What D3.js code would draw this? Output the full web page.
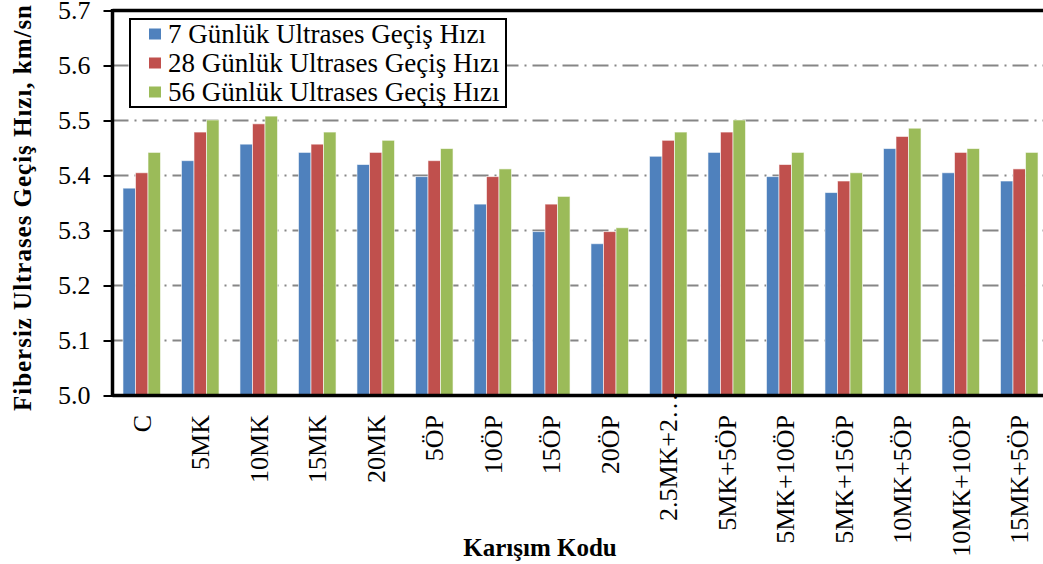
<!DOCTYPE html>
<html>
<head>
<meta charset="utf-8">
<script src="https://cdn.jsdelivr.net/npm/d3@7"></script>
<style>
  body { margin: 0; background: #fff; }
  text { font-family: "Liberation Serif", "Times New Roman", serif; fill: #000; }
</style>
</head>
<body>
<svg id="chart" width="1043" height="564"></svg>
<script>
/*
# grouped bar chart: ultrasonic pulse velocity by mix code
*/
var categories = ["C", "5MK", "10MK", "15MK", "20MK", "5ÖP", "10ÖP", "15ÖP", "20ÖP",
  "2.5MK+2…", "5MK+5ÖP", "5MK+10ÖP", "5MK+15ÖP", "10MK+5ÖP", "10MK+10ÖP", "15MK+5ÖP"];
var seriesNames = ["7 Günlük Ultrases Geçiş Hızı", "28 Günlük Ultrases Geçiş Hızı", "56 Günlük Ultrases Geçiş Hızı"];
var day7 = [5.377, 5.427, 5.457, 5.442, 5.420, 5.398, 5.348, 5.298, 5.276, 5.435, 5.442, 5.398, 5.369, 5.449, 5.405, 5.390];
var day28 = [5.405, 5.479, 5.494, 5.457, 5.442, 5.427, 5.398, 5.348, 5.298, 5.464, 5.479, 5.420, 5.390, 5.471, 5.442, 5.412];
var day56 = [5.442, 5.501, 5.508, 5.479, 5.464, 5.449, 5.412, 5.362, 5.305, 5.479, 5.501, 5.442, 5.405, 5.486, 5.449, 5.442];
var yTicks = [5.0, 5.1, 5.2, 5.3, 5.4, 5.5, 5.6, 5.7];
var colors = ["#4f81bd", "#c0504d", "#9bbb59"];

var svg = d3.select("#chart");
var plotLeft = 112.5, plotRight = 1048.5, plotTop = 10.5, plotBottom = 395.5;

var x = d3.scaleBand().domain(categories).range([plotLeft, plotRight]).paddingInner(0.358).paddingOuter(0.179);
var x1 = d3.scaleBand().domain([0, 1, 2]).range([0, x.bandwidth()]);
var y = d3.scaleLinear().domain([5.0, 5.7]).range([plotBottom, plotTop]);

var rows = categories.map(function(c, i) {
  return { cat: c, vals: [day7[i], day28[i], day56[i]] };
});

// gridlines, dash-dot like the original
svg.append("g").selectAll("line").data(yTicks.slice(1, -1)).enter().append("line")
  .attr("x1", plotLeft).attr("x2", 1043)
  .attr("y1", function(d) { return y(d); }).attr("y2", function(d) { return y(d); })
  .attr("stroke", "#868686").attr("stroke-width", 2)
  .attr("stroke-dasharray", "16,6,2,6");

// bars
var groups = svg.append("g").selectAll("g").data(rows).enter().append("g")
  .attr("transform", function(d) { return "translate(" + x(d.cat) + ",0)"; });
groups.selectAll("rect").data(function(d) { return d.vals; }).enter().append("rect")
  .attr("x", function(d, i) { return x1(i); })
  .attr("width", x1.bandwidth())
  .attr("y", function(d) { return y(d); })
  .attr("height", function(d) { return plotBottom - y(d); })
  .attr("fill", function(d, i) { return colors[i]; })
  .attr("stroke", "#fff").attr("stroke-opacity", 0.6).attr("stroke-width", 1);

// y axis
var yAxis = svg.append("g").attr("transform", "translate(" + plotLeft + ",0)")
  .call(d3.axisLeft(y).tickValues(yTicks).tickFormat(d3.format(".1f")).tickSize(9).tickPadding(13));
yAxis.select(".domain").remove();
yAxis.selectAll(".tick line").attr("stroke", "#000").attr("stroke-width", 2);
yAxis.selectAll(".tick text").style("font-size", "26px").style("font-family", "Liberation Serif");

// frame lines (left axis, bottom axis, top border)
svg.append("line").attr("x1", plotLeft).attr("x2", plotLeft).attr("y1", plotTop - 1.5).attr("y2", plotBottom + 1.5)
  .attr("stroke", "#000").attr("stroke-width", 3.5);
svg.append("line").attr("x1", plotLeft).attr("x2", 1043).attr("y1", plotBottom).attr("y2", plotBottom)
  .attr("stroke", "#000").attr("stroke-width", 3.5);
svg.append("line").attr("x1", plotLeft).attr("x2", 1043).attr("y1", plotTop).attr("y2", plotTop)
  .attr("stroke", "#000").attr("stroke-width", 3.5);

// x labels, rotated; the truncated one runs up over the axis like in excel
svg.append("g").selectAll("text").data(categories).enter().append("text")
  .attr("transform", function(d) { return "translate(" + (x(d) + x.bandwidth() / 2) + ",415) rotate(-90)"; })
  .attr("dy", "0.35em")
  .attr("dx", function(d) { return d.slice(-1) === "…" ? 22 : 0; })
  .attr("text-anchor", "end")
  .style("font-size", "26px")
  .text(function(d) { return d; });

// axis titles
svg.append("text")
  .attr("transform", "translate(31,208) rotate(-90)")
  .attr("text-anchor", "middle")
  .attr("textLength", 406).attr("lengthAdjust", "spacing")
  .style("font-size", "25px").style("font-weight", "bold")
  .text("Fibersiz Ultrases Geçiş Hızı, km/sn");
svg.append("text")
  .attr("x", 540).attr("y", 556)
  .attr("text-anchor", "middle")
  .style("font-size", "25px").style("font-weight", "bold")
  .text("Karışım Kodu");

// legend
var legend = svg.append("g");
legend.append("rect").attr("x", 130).attr("y", 19).attr("width", 376).attr("height", 88)
  .attr("fill", "#fff").attr("stroke", "#000").attr("stroke-width", 2);
var items = legend.selectAll("g.item").data(seriesNames).enter().append("g").attr("class", "item")
  .attr("transform", function(d, i) { return "translate(149," + (34 + i * 29) + ")"; });
items.append("rect").attr("x", 0).attr("y", -5.5).attr("width", 12).attr("height", 11)
  .attr("fill", function(d, i) { return colors[i]; });
items.append("text").attr("x", 19).attr("dy", "0.35em")
  .style("font-size", "27px")
  .text(function(d) { return d; });
</script>
</body>
</html>
